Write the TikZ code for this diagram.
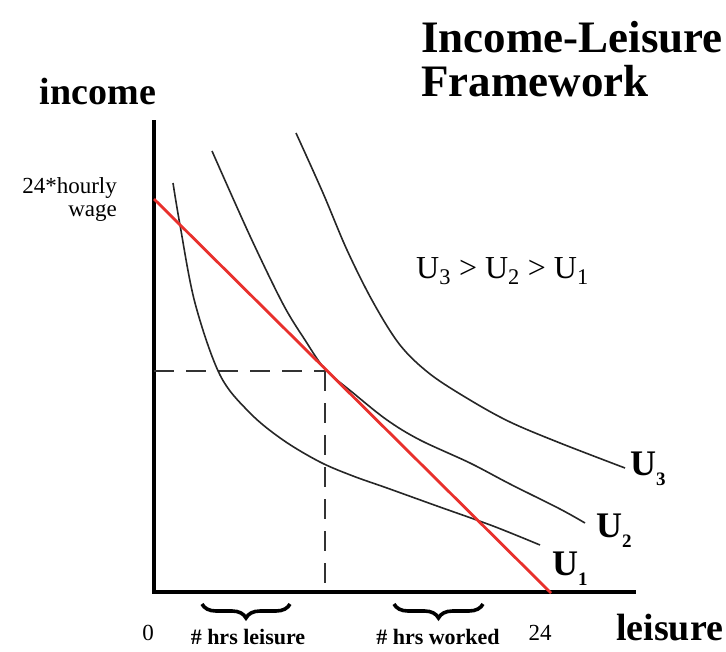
\documentclass[tikz,border=0pt]{standalone}
\usepackage{fontspec}
\setmainfont{Liberation Serif}
\usetikzlibrary{decorations.pathreplacing}
\definecolor{budget}{HTML}{E8302C}
\tikzset{
  axis/.style={line width=4pt, black},
  ic/.style={line width=1.6pt, black!85, smooth, tension=0.55},
  bline/.style={line width=2.8pt, budget},
  guide/.style={line width=1.8pt, black!80, dash pattern=on 20pt off 12pt},
  ubrace/.style={decorate, decoration={brace, mirror, amplitude=14pt}, line width=3.6pt},
  big/.style={font=\fontsize{38}{38}\selectfont\bfseries, inner sep=0pt},
  ulab/.style={font=\fontsize{36}{36}\selectfont\bfseries, inner sep=0pt, anchor=base west},
  small/.style={font=\fontsize{23}{23}\selectfont, inner sep=0pt},
  hrs/.style={font=\fontsize{22}{22}\selectfont\bfseries, inner sep=0pt, anchor=base},
  titletext/.style={font=\fontsize{45}{45}\selectfont\bfseries, inner sep=0pt, anchor=base west}
}
\newcommand{\usub}[1]{\raisebox{-0.28em}{\fontsize{19}{19}\selectfont #1}}
\begin{document}
\begin{tikzpicture}[x=1pt, y=-1pt]
\useasboundingbox (0,0) rectangle (726,651);
% axes
\coordinate (O) at (154,592);
\coordinate (Ytop) at (154,120);
\coordinate (Xend) at (636,592);
\draw[axis] (Ytop) -- (154,594);
\draw[axis] (152,592) -- (Xend);
% tangency guides
\coordinate (T) at (325,371);
\coordinate (Ty) at (154,371);
\coordinate (Tx) at (325,592);
\draw[guide] (Ty) -- (T);
\draw[guide] (T) -- (Tx);
% indifference curves
\draw[ic] plot coordinates {(173,183) (180,225) (195,303) (220,375) (250,413) (283,440) (320,462) (353,476) (387,488) (437,506) (493,526) (540,545)};
\draw[ic] plot coordinates {(212,151) (250,236) (283,304) (305,340) (325,369) (352,392) (387,420) (420,440) (470,463) (510,484) (560,509) (585,523)};
\draw[ic] plot coordinates {(296,133) (323,193) (347,250) (373,302) (400,345) (430,374) (470,400) (510,422) (560,443) (625,468)};
% budget line
\coordinate (B0) at (154,199);
\coordinate (B1) at (551,593);
\draw[bline] (B0) -- (B1);
% labels
\node[ulab] (u3) at (630,475) {U\usub{3}};
\node[ulab] (u2) at (596,537) {U\usub{2}};
\node[ulab] (u1) at (552,575) {U\usub{1}};
\node[big, anchor=base] (inc) at (98,104) {income};
\node[big, anchor=base west] (lei) at (616,640) {leisure};
\node[titletext] (t1) at (421,52) {Income-Leisure};
\node[titletext] (t2) at (421,96) {Framework};
\node[small, anchor=base east] (w1) at (117,193) {24*hourly};
\node[small, anchor=base east] (w2) at (117,216) {wage};
\node[font=\fontsize{32}{32}\selectfont, inner sep=0pt, anchor=base west] (ord) at (416,278) {U\textsubscript{3} > U\textsubscript{2} > U\textsubscript{1}};
\node[small, anchor=base] (zero) at (148,640) {0};
\node[small, anchor=base] (tf) at (540,640) {24};
% braces
\draw[ubrace] (202,604) -- (290,604);
\draw[ubrace] (394,604) -- (483,604);
\node[hrs] (hl) at (248,644) {\# hrs leisure};
\node[hrs] (hw) at (438,644) {\# hrs worked};
\end{tikzpicture}
\end{document}
